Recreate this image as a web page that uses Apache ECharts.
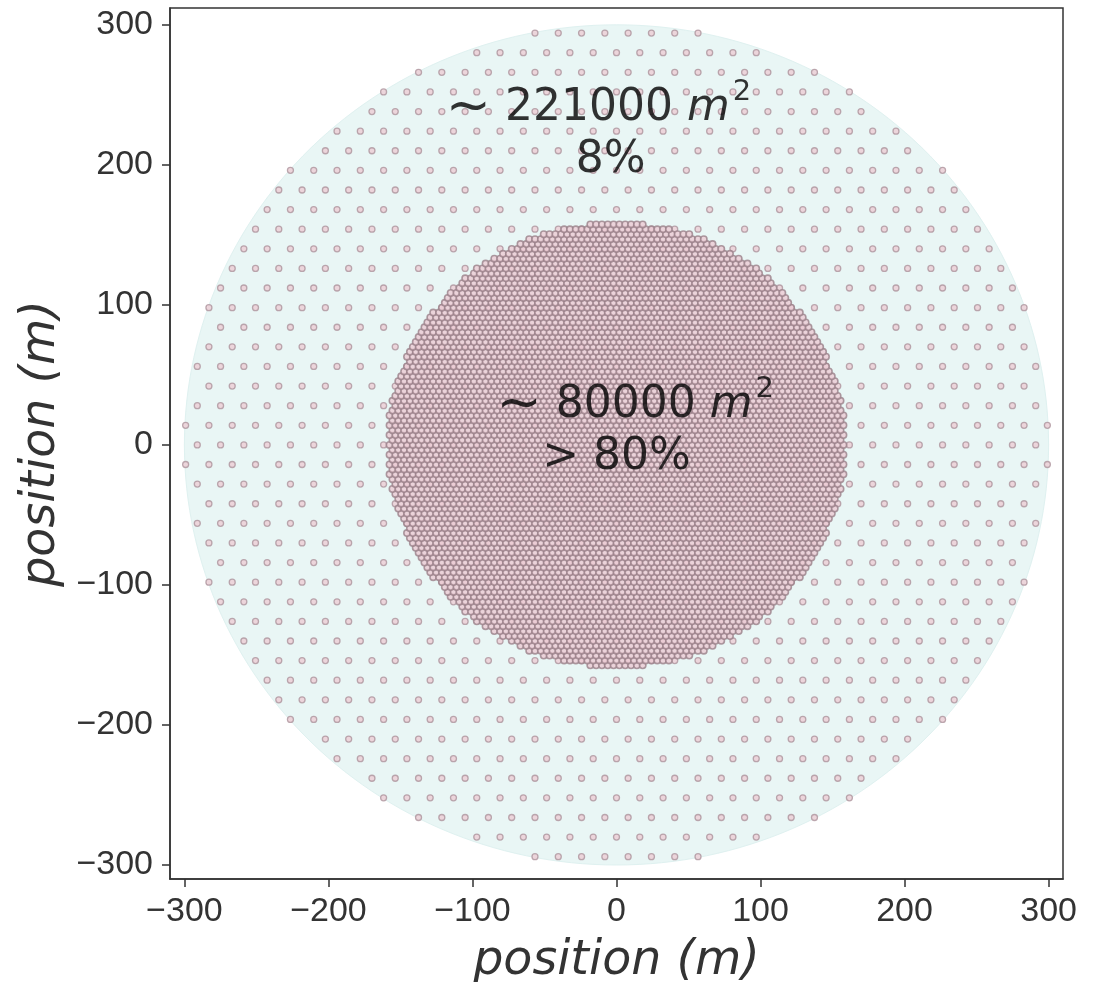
<!DOCTYPE html>
<html>
<head>
<meta charset="utf-8">
<script src="https://cdn.jsdelivr.net/npm/echarts@6/dist/echarts.min.js"></script>
<style>
html,body{margin:0;padding:0;background:#fff;}
#chart{width:1094px;height:982px;}
</style>
</head>
<body>
<div id="chart"></div>
<script>
// ---- data ----
const xMin = -310, xMax = 310;
const yMin = -310, yMax = 312;
const xTicks = [-300, -200, -100, 0, 100, 200, 300];
const yTicks = [-300, -200, -100, 0, 100, 200, 300];

// background disk
const diskRadius = 300;
// sparse hexagonal layout in the outer ring
const outerSpacing = 16.17;
const outerRadius = 300;
// dense hexagonal layout in the inner disk
const innerSpacing = 4.04;
const innerRadius = 159;

// annotations: text lines and their anchor positions (m)
const annoMain = ['221000', '8%', '80000', '> 80%'];
const annoX = [-12.5, -4, 13, 0];
const annoY = [240, 203, 28, -9];

// ---- hex lattice clipped to a circle ----
function hexLattice(d, R) {
  const pts = [];
  const dy = d * Math.sqrt(3) / 2;
  const nRows = Math.floor(R / dy);
  for (let j = -nRows; j <= nRows; j++) {
    const y = j * dy;
    const off = (Math.abs(j) % 2 === 1) ? d / 2 : 0;
    const nCols = Math.ceil(R / d) + 1;
    for (let i = -nCols; i <= nCols; i++) {
      const x = i * d + off;
      if (x * x + y * y <= R * R) pts.push([x, y]);
    }
  }
  return pts;
}
const outerPts = hexLattice(outerSpacing, outerRadius);
const innerPts = hexLattice(innerSpacing, innerRadius);

const chart = echarts.init(document.getElementById('chart'), null, {renderer: 'canvas'});

const labelRich = {
  w: {fontFamily: 'DejaVu Sans', fontSize: 54, color: '#000'},
  t: {fontFamily: 'DejaVu Sans', fontSize: 44, color: '#000'},
  m: {fontFamily: 'DejaVu Sans', fontStyle: 'italic', fontSize: 44, color: '#000'},
  s: {fontFamily: 'DejaVu Sans', fontSize: 29, color: '#000', verticalAlign: 'top', padding: [0, 0, 32, 3]}
};

function annoText(idx) {
  const m = annoMain[idx];
  if (idx === 0 || idx === 2) return '{w|\u223C}{t| ' + m + ' }{m|m}{s|2}';
  return '{t|' + m + '}';
}

const annoData = annoMain.map((m, i) => ({value: [annoX[i], annoY[i]], idx: i}));

const tickFmt = v => (v < 0 ? '\u2212' + Math.abs(v) : String(v));

const option = {
  animation: false,
  backgroundColor: '#fff',
  grid: {
    left: 170, right: 31, top: 8, bottom: 103,
    containLabel: false, outerBoundsMode: 'none',
    show: true, borderColor: '#333', borderWidth: 1.5, backgroundColor: 'transparent'
  },
  xAxis: {
    type: 'value', min: xMin, max: xMax,
    splitLine: {show: false},
    axisLine: {show: true, onZero: false, lineStyle: {color: '#333', width: 1.5}},
    axisTick: {show: true, length: 8, lineStyle: {color: '#333', width: 1.5}, customValues: xTicks},
    axisLabel: {
      customValues: xTicks, margin: 16,
      fontFamily: 'Liberation Sans, Arial, sans-serif', fontSize: 34, color: '#333',
      formatter: tickFmt
    },
    name: 'position (m)', nameLocation: 'middle', nameGap: 59,
    nameTextStyle: {fontFamily: 'DejaVu Sans', fontStyle: 'italic', fontSize: 47.5, color: '#333'}
  },
  yAxis: {
    type: 'value', min: yMin, max: yMax,
    splitLine: {show: false},
    axisLine: {show: true, onZero: false, lineStyle: {color: '#333', width: 1.5}},
    axisTick: {show: true, length: 8, lineStyle: {color: '#333', width: 1.5}, customValues: yTicks},
    axisLabel: {
      customValues: yTicks, margin: 17,
      fontFamily: 'Liberation Sans, Arial, sans-serif', fontSize: 34, color: '#333',
      formatter: tickFmt
    },
    name: 'position (m)', nameLocation: 'middle', nameGap: 104, nameRotate: 90,
    nameTextStyle: {fontFamily: 'DejaVu Sans', fontStyle: 'italic', fontSize: 47.5, color: '#333'}
  },
  series: [
    {
      type: 'custom',
      silent: true,
      z: 1,
      data: [[0, 0]],
      renderItem: function (params, api) {
        const pts = [];
        for (let k = 0; k < 240; k++) {
          const a = 2 * Math.PI * k / 240;
          pts.push(api.coord([diskRadius * Math.cos(a), diskRadius * Math.sin(a)]));
        }
        return {
          type: 'polygon',
          shape: {points: pts},
          style: {fill: '#e9f6f5', stroke: '#dff1f0', lineWidth: 1}
        };
      }
    },
    {
      type: 'scatter', z: 2, silent: true,
      symbol: 'circle', symbolSize: 6,
      large: false, progressive: 0,
      itemStyle: {color: '#eccdd5', borderColor: '#ad939c', borderWidth: 1.3},
      data: outerPts
    },
    {
      type: 'scatter', z: 3, silent: true,
      symbol: 'circle', symbolSize: 6.4,
      large: false, progressive: 0,
      itemStyle: {color: '#ebcad3', borderColor: '#9a8189', borderWidth: 1.6},
      data: innerPts
    },
    {
      type: 'scatter', z: 4, silent: true,
      symbolSize: 1,
      itemStyle: {color: 'rgba(0,0,0,0)'},
      data: annoData,
      label: {
        show: true, position: 'inside', color: '#000',
        textBorderWidth: 0,
        formatter: p => annoText(p.data.idx),
        rich: labelRich
      }
    }
  ]
};
chart.setOption(option);
</script>
</body>
</html>
